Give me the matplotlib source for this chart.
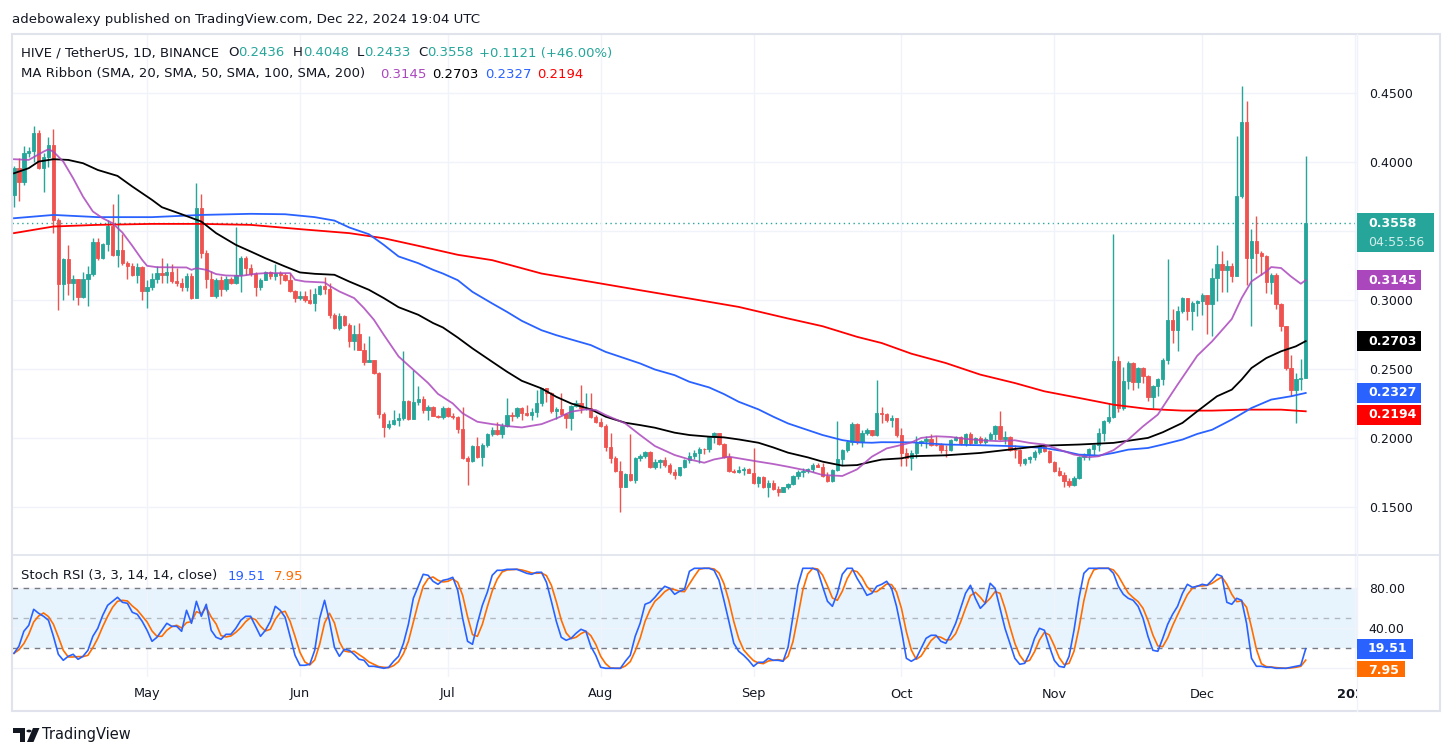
import matplotlib
matplotlib.use("Agg")
import matplotlib.pyplot as plt
import matplotlib.dates as mdates
import matplotlib.transforms as mtransforms
from matplotlib.patches import Rectangle, Polygon, Circle
from matplotlib.lines import Line2D
import numpy as np
import pandas as pd

W, H = 1453, 756

# HIVE / USDT daily candles, 2024-04-04 .. 2024-12-22 (open = previous close)
start_date = "2024-04-04"
first_open = 0.3763
closes = [
    0.3957, 0.3860, 0.4065, 0.4082, 0.4210, 0.3961, 0.4041, 0.4126, 0.3582, 0.3116,
    0.3297, 0.3128, 0.3152, 0.3022, 0.3152, 0.3191, 0.3420, 0.3309, 0.3408, 0.3541,
    0.3324, 0.3365, 0.3273, 0.3251, 0.3184, 0.3244, 0.3063, 0.3099, 0.3152, 0.3196,
    0.3186, 0.3201, 0.3140, 0.3128, 0.3099, 0.3176, 0.3015, 0.3671, 0.3341, 0.3152,
    0.3032, 0.3148, 0.3080, 0.3152, 0.3123, 0.3184, 0.3309, 0.3232, 0.3189, 0.3092,
    0.3148, 0.3201, 0.3176, 0.3196, 0.3179, 0.3148, 0.3063, 0.3015, 0.3032, 0.3003,
    0.2979, 0.3046, 0.3104, 0.3080, 0.2894, 0.2797, 0.2887, 0.2821, 0.2701, 0.2754,
    0.2636, 0.2549, 0.2563, 0.2471, 0.2174, 0.2078, 0.2102, 0.2133, 0.2145, 0.2271,
    0.2138, 0.2259, 0.2283, 0.2201, 0.2225, 0.2162, 0.2153, 0.2218, 0.2157, 0.2150,
    0.2063, 0.1853, 0.1836, 0.1942, 0.1860, 0.1949, 0.2029, 0.2058, 0.2029, 0.2087,
    0.2167, 0.2162, 0.2215, 0.2184, 0.2167, 0.2188, 0.2251, 0.2360, 0.2328, 0.2198,
    0.2213, 0.2171, 0.2142, 0.2232, 0.2256, 0.2215, 0.2220, 0.2150, 0.2118, 0.2089,
    0.1937, 0.1857, 0.1761, 0.1647, 0.1739, 0.1696, 0.1853, 0.1872, 0.1901, 0.1787,
    0.1828, 0.1841, 0.1804, 0.1751, 0.1732, 0.1787, 0.1841, 0.1872, 0.1889, 0.1920,
    0.1918, 0.2010, 0.2034, 0.1956, 0.1865, 0.1763, 0.1756, 0.1768, 0.1773, 0.1749,
    0.1671, 0.1715, 0.1643, 0.1671, 0.1628, 0.1611, 0.1643, 0.1664, 0.1727, 0.1756,
    0.1761, 0.1775, 0.1804, 0.1792, 0.1725, 0.1688, 0.1768, 0.1848, 0.1913, 0.1973,
    0.2101, 0.1973, 0.2039, 0.2058, 0.2022, 0.2179, 0.2174, 0.2130, 0.2142, 0.2022,
    0.1892, 0.1856, 0.1892, 0.1965, 0.1977, 0.1996, 0.1953, 0.1950, 0.1916, 0.1912,
    0.1989, 0.2006, 0.1965, 0.2030, 0.1965, 0.2001, 0.1969, 0.1996, 0.2030, 0.2090,
    0.1994, 0.2008, 0.1916, 0.1911, 0.1820, 0.1849, 0.1861, 0.1897, 0.1945, 0.1904,
    0.1825, 0.1759, 0.1735, 0.1687, 0.1663, 0.1711, 0.1863, 0.1880, 0.1921, 0.1948,
    0.2037, 0.2122, 0.2151, 0.2556, 0.2218, 0.2411, 0.2544, 0.2404, 0.2508, 0.2452,
    0.2298, 0.2380, 0.2431, 0.2568, 0.2853, 0.2781, 0.2923, 0.3015, 0.2919, 0.2979,
    0.2991, 0.3039, 0.2974, 0.3160, 0.3264, 0.3220, 0.3249, 0.3172, 0.3756, 0.4290,
    0.3309, 0.3430, 0.3341, 0.3317, 0.3129, 0.3184, 0.2971, 0.2810, 0.2508, 0.2346,
    0.2431, 0.2436, 0.3558,
]
highs = [
    0.3973, 0.4029, 0.4118, 0.4113, 0.4263, 0.4234, 0.4065, 0.4186, 0.4241, 0.3599,
    0.3304, 0.3401, 0.3184, 0.3155, 0.3203, 0.3249, 0.3449, 0.3449, 0.3413, 0.3582,
    0.3696, 0.3768, 0.3478, 0.3285, 0.3268, 0.3268, 0.3249, 0.3148, 0.3196, 0.3251,
    0.3309, 0.3268, 0.3261, 0.3232, 0.3160, 0.3196, 0.3196, 0.3853, 0.3768, 0.3365,
    0.3208, 0.3160, 0.3172, 0.3172, 0.3167, 0.3534, 0.3317, 0.3317, 0.3261, 0.3201,
    0.3160, 0.3208, 0.3208, 0.3263, 0.3208, 0.3196, 0.3196, 0.3075, 0.3063, 0.3063,
    0.3080, 0.3087, 0.3111, 0.3167, 0.3128, 0.2906, 0.2906, 0.2894, 0.2834, 0.2821,
    0.2834, 0.2689, 0.2737, 0.2568, 0.2481, 0.2186, 0.2133, 0.2201, 0.2181, 0.2628,
    0.2278, 0.2495, 0.2375, 0.2307, 0.2242, 0.2235, 0.2169, 0.2230, 0.2223, 0.2179,
    0.2159, 0.2227, 0.1870, 0.1949, 0.2010, 0.1966, 0.2039, 0.2082, 0.2118, 0.2111,
    0.2287, 0.2191, 0.2227, 0.2227, 0.2239, 0.2215, 0.2348, 0.2365, 0.2365, 0.2336,
    0.2227, 0.2328, 0.2183, 0.2239, 0.2275, 0.2384, 0.2328, 0.2328, 0.2167, 0.2142,
    0.2101, 0.2034, 0.1870, 0.1836, 0.1749, 0.2027, 0.1865, 0.1884, 0.1908, 0.1906,
    0.1845, 0.1845, 0.1865, 0.1816, 0.1773, 0.1792, 0.1845, 0.1901, 0.1913, 0.1932,
    0.1930, 0.2014, 0.2046, 0.2039, 0.1966, 0.1894, 0.1773, 0.1797, 0.1792, 0.1785,
    0.1925, 0.1725, 0.1725, 0.1696, 0.1696, 0.1652, 0.1647, 0.1676, 0.1732, 0.1768,
    0.1780, 0.1780, 0.1816, 0.1816, 0.1816, 0.1756, 0.1773, 0.2123, 0.1918, 0.1985,
    0.2113, 0.2106, 0.2058, 0.2070, 0.2058, 0.2420, 0.2227, 0.2179, 0.2167, 0.2142,
    0.2073, 0.1928, 0.1916, 0.2013, 0.1989, 0.2013, 0.2030, 0.2013, 0.1965, 0.1953,
    0.1994, 0.2013, 0.2013, 0.2037, 0.2042, 0.2006, 0.2013, 0.2006, 0.2042, 0.2097,
    0.2199, 0.2054, 0.2013, 0.1953, 0.1921, 0.1856, 0.1868, 0.1916, 0.1953, 0.1945,
    0.1916, 0.1832, 0.1791, 0.1752, 0.1711, 0.1723, 0.1868, 0.1892, 0.1928, 0.1957,
    0.2073, 0.2134, 0.2254, 0.3481, 0.2597, 0.2515, 0.2556, 0.2549, 0.2515, 0.2515,
    0.2460, 0.2387, 0.2436, 0.2580, 0.3300, 0.2936, 0.2955, 0.3022, 0.3015, 0.2991,
    0.2998, 0.3051, 0.3039, 0.3232, 0.3401, 0.3353, 0.3292, 0.3268, 0.4191, 0.4553,
    0.4444, 0.3514, 0.3611, 0.3353, 0.3329, 0.3196, 0.3196, 0.2979, 0.2814, 0.2604,
    0.2472, 0.2573, 0.4048,
]
lows = [
    0.3674, 0.3722, 0.3836, 0.4041, 0.4005, 0.3949, 0.3787, 0.3969, 0.3486, 0.2930,
    0.3003, 0.3039, 0.2998, 0.2966, 0.3015, 0.2959, 0.3176, 0.3292, 0.3297, 0.3353,
    0.3317, 0.3237, 0.3256, 0.3157, 0.3172, 0.3128, 0.3003, 0.2940, 0.3075, 0.3123,
    0.3128, 0.3128, 0.3123, 0.3104, 0.3070, 0.3063, 0.3010, 0.3015, 0.3304, 0.3087,
    0.3027, 0.3015, 0.3027, 0.3070, 0.3116, 0.3118, 0.3056, 0.3184, 0.3176, 0.3027,
    0.3075, 0.3143, 0.3152, 0.3143, 0.3116, 0.3140, 0.3056, 0.2990, 0.3003, 0.2990,
    0.2974, 0.2918, 0.3039, 0.3046, 0.2870, 0.2790, 0.2785, 0.2814, 0.2657, 0.2640,
    0.2636, 0.2532, 0.2556, 0.2466, 0.2145, 0.2005, 0.2066, 0.2097, 0.2090, 0.2133,
    0.2133, 0.2138, 0.2242, 0.2181, 0.2133, 0.2157, 0.2145, 0.2138, 0.2153, 0.2135,
    0.2034, 0.1845, 0.1659, 0.1829, 0.1853, 0.1797, 0.1937, 0.2014, 0.2022, 0.1998,
    0.2082, 0.2125, 0.2142, 0.2130, 0.2159, 0.2130, 0.2155, 0.2234, 0.2263, 0.2184,
    0.2135, 0.2167, 0.2070, 0.2058, 0.2227, 0.2179, 0.2203, 0.2142, 0.2106, 0.2082,
    0.1906, 0.1816, 0.1756, 0.1466, 0.1643, 0.1691, 0.1672, 0.1836, 0.1853, 0.1780,
    0.1773, 0.1780, 0.1792, 0.1739, 0.1701, 0.1725, 0.1780, 0.1816, 0.1845, 0.1821,
    0.1884, 0.1901, 0.1961, 0.1949, 0.1853, 0.1756, 0.1744, 0.1749, 0.1732, 0.1744,
    0.1664, 0.1643, 0.1635, 0.1570, 0.1623, 0.1582, 0.1606, 0.1628, 0.1659, 0.1701,
    0.1720, 0.1744, 0.1756, 0.1787, 0.1720, 0.1684, 0.1684, 0.1761, 0.1804, 0.1901,
    0.1949, 0.1956, 0.1932, 0.2022, 0.2014, 0.2014, 0.2111, 0.2118, 0.2082, 0.2010,
    0.1796, 0.1796, 0.1771, 0.1856, 0.1941, 0.1928, 0.1941, 0.1941, 0.1892, 0.1861,
    0.1904, 0.1977, 0.1953, 0.1945, 0.1953, 0.1965, 0.1957, 0.1960, 0.1984, 0.1989,
    0.1984, 0.1957, 0.1904, 0.1856, 0.1796, 0.1808, 0.1820, 0.1844, 0.1887, 0.1897,
    0.1820, 0.1752, 0.1728, 0.1646, 0.1646, 0.1655, 0.1706, 0.1839, 0.1844, 0.1868,
    0.1904, 0.1977, 0.2110, 0.2146, 0.2187, 0.2206, 0.2356, 0.2351, 0.2363, 0.2399,
    0.2266, 0.2218, 0.2303, 0.2387, 0.2539, 0.2689, 0.2629, 0.2907, 0.2853, 0.2781,
    0.2882, 0.2894, 0.2757, 0.2737, 0.2991, 0.3056, 0.3056, 0.3135, 0.3172, 0.3739,
    0.3111, 0.2814, 0.3196, 0.3184, 0.3051, 0.3044, 0.2935, 0.2773, 0.2496, 0.2302,
    0.2109, 0.2346, 0.2433,
]

ma20_idx = [0, 3, 6, 7, 8, 10, 12, 14, 16, 18, 20, 22, 24, 26, 27, 29, 35, 36, 37, 39,
            41, 43, 46, 49, 51, 56, 57, 59, 63, 64, 66, 69, 71, 73, 75, 78, 81, 84, 86, 89,
            91, 94, 97, 100, 103, 107, 110, 113, 116, 118, 120, 124, 127, 130, 134, 137, 140, 142, 145, 147,
            151, 154, 157, 161, 164, 168, 171, 174, 177, 180, 182, 184, 187, 190, 193, 197, 200, 203, 206, 209,
            212, 215, 218, 220, 223, 226, 229, 232, 234, 236, 240, 243, 247, 249, 251, 254, 255, 257, 259, 261, 262]
ma20_val = [0.4022, 0.4017, 0.4077, 0.4094, 0.4077, 0.4005, 0.3884, 0.3751, 0.3643, 0.3594,
            0.3558, 0.3490, 0.3394, 0.3292, 0.3249, 0.3239, 0.3237, 0.3220, 0.3232, 0.3220,
            0.3189, 0.3179, 0.3176, 0.3191, 0.3196, 0.3196, 0.3148, 0.3135, 0.3128, 0.3104,
            0.3063, 0.3015, 0.2942, 0.2858, 0.2749, 0.2592, 0.2495, 0.2399, 0.2320, 0.2251,
            0.2179, 0.2118, 0.2101, 0.2087, 0.2077, 0.2101, 0.2142, 0.2191, 0.2208, 0.2203,
            0.2167, 0.2106, 0.2022, 0.1942, 0.1877, 0.1845, 0.1821, 0.1845, 0.1865, 0.1853,
            0.1829, 0.1812, 0.1792, 0.1763, 0.1732, 0.1725, 0.1773, 0.1865, 0.1925, 0.1950,
            0.1968, 0.2001, 0.2013, 0.2008, 0.1994, 0.1982, 0.1977, 0.1984, 0.1965, 0.1953,
            0.1916, 0.1880, 0.1861, 0.1868, 0.1912, 0.1989, 0.2085, 0.2170, 0.2279, 0.2387,
            0.2597, 0.2701, 0.2863, 0.3015, 0.3136, 0.3208, 0.3240, 0.3233, 0.3172, 0.3119, 0.3145]

ma50_idx = [0, 3, 5, 8, 11, 14, 17, 21, 24, 28, 30, 34, 38, 41, 45, 48, 51, 55, 58, 61,
            65, 68, 72, 75, 78, 82, 85, 87, 90, 93, 97, 100, 103, 107, 110, 113, 117, 120, 124, 127,
            130, 134, 137, 141, 144, 147, 151, 154, 157, 161, 164, 168, 171, 174, 176, 180, 182, 189, 196, 203,
            209, 216, 223, 230, 233, 237, 240, 244, 247, 249, 251, 254, 257, 260, 262]
ma50_val = [0.3920, 0.3957, 0.4005, 0.4022, 0.4017, 0.3993, 0.3944, 0.3901, 0.3824, 0.3727,
            0.3674, 0.3623, 0.3570, 0.3486, 0.3401, 0.3353, 0.3304, 0.3244, 0.3201, 0.3191,
            0.3184, 0.3135, 0.3075, 0.3015, 0.2949, 0.2894, 0.2834, 0.2802, 0.2729, 0.2650,
            0.2553, 0.2481, 0.2415, 0.2360, 0.2299, 0.2251, 0.2208, 0.2155, 0.2111, 0.2094,
            0.2075, 0.2039, 0.2022, 0.2010, 0.2005, 0.1990, 0.1966, 0.1932, 0.1894, 0.1860,
            0.1829, 0.1800, 0.1804, 0.1829, 0.1844, 0.1853, 0.1868, 0.1875, 0.1892, 0.1921,
            0.1945, 0.1953, 0.1965, 0.2001, 0.2042, 0.2110, 0.2194, 0.2303, 0.2351, 0.2424,
            0.2508, 0.2580, 0.2629, 0.2665, 0.2703]

ma100_idx = [0, 8, 17, 28, 38, 48, 55, 61, 65, 68, 72, 75, 78, 82, 85, 87, 90, 93, 97, 100,
             103, 107, 110, 113, 117, 120, 124, 127, 130, 134, 137, 141, 144, 147, 151, 154, 157, 161, 164, 168,
             171, 174, 176, 182, 189, 196, 203, 209, 213, 216, 220, 223, 226, 230, 233, 237, 240, 243, 247, 251,
             255, 259, 262]
ma100_val = [0.3594, 0.3618, 0.3602, 0.3602, 0.3618, 0.3626, 0.3623, 0.3602, 0.3577, 0.3527,
             0.3478, 0.3401, 0.3317, 0.3268, 0.3220, 0.3193, 0.3145, 0.3060, 0.2976, 0.2915,
             0.2850, 0.2782, 0.2746, 0.2715, 0.2674, 0.2625, 0.2577, 0.2541, 0.2497, 0.2456,
             0.2408, 0.2367, 0.2319, 0.2263, 0.2208, 0.2155, 0.2106, 0.2058, 0.2022, 0.1985,
             0.1969, 0.1966, 0.1970, 0.1969, 0.1953, 0.1948, 0.1941, 0.1928, 0.1904, 0.1880,
             0.1873, 0.1892, 0.1916, 0.1928, 0.1953, 0.1989, 0.2030, 0.2060, 0.2134, 0.2218,
             0.2279, 0.2303, 0.2327]

ma200_idx = [0, 8, 17, 28, 38, 48, 58, 68, 75, 82, 90, 97, 107, 117, 127, 137, 147, 157, 164, 171,
             176, 182, 189, 196, 203, 209, 216, 223, 230, 237, 243, 250, 257, 262]
ma200_val = [0.3486, 0.3534, 0.3546, 0.3553, 0.3553, 0.3546, 0.3515, 0.3486, 0.3449, 0.3394,
             0.3329, 0.3290, 0.3193, 0.3133, 0.3072, 0.3012, 0.2951, 0.2867, 0.2811, 0.2734,
             0.2689, 0.2612, 0.2544, 0.2460, 0.2399, 0.2339, 0.2291, 0.2242, 0.2211, 0.2199,
             0.2199, 0.2206, 0.2206, 0.2194]

# Stoch RSI %K (3, 3, 14, 14), one value per candle
stoch_k = [
    15, 22, 37, 43, 59, 55, 52, 48, 32, 14,
    8, 12, 14, 9, 12, 18, 32, 40, 53, 63,
    67, 71, 66, 65, 56, 54, 47, 38, 27, 31,
    38, 45, 42, 42, 37, 58, 45, 67, 52, 64,
    38, 31, 29, 34, 34, 40, 48, 52, 52, 42,
    32, 38, 47, 62, 58, 51, 32, 13, 3, 3,
    4, 18, 50, 68, 47, 21, 12, 19, 18, 14,
    9, 8, 2, 2, 1, 0, 1, 7, 12, 25,
    44, 70, 82, 94, 93, 87, 84, 88, 89, 91,
    78, 50, 27, 24, 45, 63, 76, 93, 98, 98,
    99, 99, 99, 97, 95, 94, 96, 96, 86, 67,
    47, 31, 28, 30, 35, 39, 37, 22, 13, 1,
    0, 0, 0, 0, 7, 13, 32, 45, 64, 66,
    71, 77, 82, 80, 74, 77, 79, 97, 100, 100,
    100, 100, 98, 88, 68, 47, 25, 17, 13, 8,
    2, 6, 6, 10, 8, 8, 7, 21, 52, 83,
    100, 100, 100, 98, 82, 67, 62, 75, 94, 100,
    100, 90, 82, 73, 75, 82, 84, 87, 80, 62,
    38, 10, 7, 10, 20, 30, 33, 33, 27, 25,
    34, 45, 60, 75, 83, 70, 60, 65, 85, 80,
    60, 40, 25, 10, 4, 5, 15, 30, 40, 38,
    22, 8, 2, 1, 12, 38, 70, 95, 100, 100,
    100, 100, 100, 95, 82, 74, 70, 68, 62, 50,
    32, 18, 17, 30, 44, 54, 62, 75, 84, 81,
    82, 84, 83, 88, 94, 92, 66, 64, 70, 68,
    45, 10, 2, 2, 1, 1, 0, 0, 0, 1,
    2, 3, 19.51,
]

UP = "#26a69a"
DOWN = "#ef5350"
TXT = "#131722"
GRID = "#f0f3fa"
BORDER = "#e0e3eb"
C20, C50, C100, C200 = "#ab47bc", "#000000", "#2962ff", "#ff0000"
KCOL, DCOL = "#2962ff", "#ff6d00"

dates = pd.date_range(start_date, periods=len(closes), freq="D")
x = mdates.date2num(dates)
opens = [first_open] + closes[:-1]
stoch_d = pd.Series(stoch_k).rolling(3, min_periods=1).mean()

fig = plt.figure(figsize=(W / 100, H / 100), dpi=100)
fig.patch.set_facecolor("white")


def box(l, t, r, b):
    return [l / W, 1 - b / H, (r - l) / W, (b - t) / H]


ax = fig.add_axes(box(12, 34, 1357, 555))
ax2 = fig.add_axes(box(12, 555, 1357, 677), sharex=ax)
axt = fig.add_axes(box(12, 677, 1357, 711), sharex=ax)

# candles
o = np.array(opens)
c = np.array(closes)
cols = np.where(c >= o, UP, DOWN)
ax.vlines(x, lows, highs, colors=cols, lw=1, zorder=2)
ax.bar(x, c - o, bottom=o, width=0.68, color=cols, edgecolor=cols, linewidth=0.6, zorder=3)

# moving averages
ax.plot(x[ma200_idx], ma200_val, color=C200, lw=1.3, zorder=4)
ax.plot(x[ma100_idx], ma100_val, color=C100, lw=1.3, zorder=4)
ax.plot(x[ma50_idx], ma50_val, color=C50, lw=1.3, zorder=4)
ax.plot(x[ma20_idx], ma20_val, color=C20, lw=1.3, alpha=0.85, zorder=4)
ax.axhline(closes[-1], color=UP, lw=1, ls=(0, (1, 2.5)), zorder=1)

months = pd.date_range("2024-05-01", "2025-01-01", freq="MS")
mx = mdates.date2num(months)

# price levels that sit under a price tag are not labelled on the scale
hidden_main = [0.35]
hidden_stoch = [0]

ax.set_xlim(x[0] - 0.4, x[0] + 272.4)
ax.set_ylim(0.1152, 0.4930)
ax.set_xticks(mx)
ax.set_yticks(np.arange(0.15, 0.4501, 0.05))
ax.yaxis.tick_right()
ax.yaxis.set_major_formatter(matplotlib.ticker.FuncFormatter(
    lambda v, p: "" if any(abs(v - h) < 1e-6 for h in hidden_main) else f"{v:.4f}"))
ax.tick_params(axis="x", length=0, labelbottom=False)
ax.tick_params(axis="y", length=0, pad=8.5, labelsize=9, labelcolor=TXT)
ax.grid(True, color=GRID, lw=1, zorder=0)

# stoch rsi pane
ax2.axhspan(20, 80, color="#2196f3", alpha=0.1, lw=0)
ax2.axhline(80, color="#787b86", lw=1, ls=(0, (4, 4)))
ax2.axhline(50, color="#787b86", lw=1, ls=(0, (4, 4)), alpha=0.5)
ax2.axhline(20, color="#787b86", lw=1, ls=(0, (4, 4)))
ax2.plot(x, stoch_k, color=KCOL, lw=1.2, zorder=4)
ax2.plot(x, stoch_d, color=DCOL, lw=1.2, zorder=3)
ax2.set_ylim(-8.7, 113.3)
ax2.set_yticks([0, 40, 80])
ax2.yaxis.tick_right()
ax2.yaxis.set_major_formatter(matplotlib.ticker.FuncFormatter(
    lambda v, p: "" if any(abs(v - h) < 1e-6 for h in hidden_stoch) else f"{v:.2f}"))
ax2.tick_params(axis="x", length=0, labelbottom=False)
ax2.tick_params(axis="y", length=0, pad=8.5, labelsize=9, labelcolor=TXT)
ax2.grid(True, color=GRID, lw=1, zorder=0)

for a in (ax, ax2, axt):
    for s in a.spines.values():
        s.set_visible(False)
axt.axis("off")

# time axis labels, clipped at the price scale like the original
tt = mtransforms.blended_transform_factory(axt.transData, axt.transAxes)
for d, xm in zip(months, mx):
    bold = d.month == 1
    lab = str(d.year) if bold else d.strftime("%b")
    axt.text(xm, 0.5, lab, transform=tt, ha="center", va="center", fontsize=9.3,
             color=TXT, fontweight="bold" if bold else "normal", clip_on=True)

# frame and separators
fig.add_artist(Rectangle((12 / W, 1 - 711 / H), (1440 - 12) / W, (711 - 34) / H,
                         transform=fig.transFigure, fill=False, ec=BORDER, lw=1.5))
fig.add_artist(Line2D([12 / W, 1440 / W], [1 - 555 / H] * 2, color=BORDER, lw=1.2))
fig.add_artist(Line2D([1357 / W] * 2, [1 - 711 / H, 1 - 34 / H], color=GRID, lw=1))

renderer = fig.canvas.get_renderer()


def chain(px, py, parts, size=9.5):
    xx = px
    for s, col, gap in parts:
        t = fig.text(xx / W, 1 - py / H, s, color=col, fontsize=size, ha="left", va="center")
        xx = t.get_window_extent(renderer).x1 + gap


fig.text(12 / W, 1 - 19 / H, "adebowalexy published on TradingView.com, Dec 22, 2024 19:04 UTC",
         fontsize=9.6, color=TXT, ha="left", va="center")
chain(21, 53, [("HIVE / TetherUS, 1D, BINANCE", TXT, 9), ("O", TXT, 0), ("0.2436", UP, 8),
               ("H", TXT, 0), ("0.4048", UP, 8), ("L", TXT, 0), ("0.2433", UP, 8),
               ("C", TXT, 0), ("0.3558", UP, 5), ("+0.1121 (+46.00%)", UP, 0)])
chain(21, 74, [("MA Ribbon (SMA, 20, SMA, 50, SMA, 100, SMA, 200)", TXT, 15),
               ("0.3145", C20, 6), ("0.2703", C50, 6), ("0.2327", C100, 6), ("0.2194", C200, 0)])
chain(21, 576, [("Stoch RSI (3, 3, 14, 14, close)", TXT, 10), ("19.51", KCOL, 9), ("7.95", DCOL, 0)])


def tag(axis, value, label, color, w, h=20, top_min=0, pane_bottom=None, sub=None):
    yc = H - axis.transData.transform((0, value))[1]
    top = max(yc - 10, top_min)
    hh = h if pane_bottom is None else min(h, pane_bottom - top)
    fig.add_artist(Rectangle((1357 / W, 1 - (top + hh) / H), w / W, hh / H,
                             transform=fig.transFigure, fc=color, ec="none", zorder=5))
    fig.text(1368 / W, 1 - (top + 10) / H, label, color="white", fontsize=9,
             fontweight="bold", ha="left", va="center", zorder=6)
    if sub:
        fig.text(1368 / W, 1 - (top + 29) / H, sub, color="white", alpha=0.8, fontsize=9,
                 ha="left", va="center", zorder=6)
    return top + hh + 2


tag(ax, closes[-1], "0.3558", UP, 77, h=39, sub="04:55:56")
tag(ax, ma20_val[-1], "0.3145", C20, 64)
tag(ax, ma50_val[-1], "0.2703", "#000000", 64)
nxt = tag(ax, ma100_val[-1], "0.2327", C100, 64)
tag(ax, ma200_val[-1], "0.2194", C200, 64, top_min=nxt)
nxt = tag(ax2, stoch_k[-1], "19.51", KCOL, 56)
tag(ax2, stoch_d.iloc[-1], "7.95", DCOL, 48, top_min=nxt, pane_bottom=677)

# TradingView footer logo
lc = "#131722"
fig.add_artist(Polygon([[13 / W, 1 - 728 / H], [25 / W, 1 - 728 / H], [25 / W, 1 - 742 / H],
                        [19.5 / W, 1 - 742 / H], [19.5 / W, 1 - 733 / H], [13 / W, 1 - 733 / H]],
                       closed=True, transform=fig.transFigure, fc=lc, ec="none"))
fig.add_artist(Circle((29 / W, 1 - 731 / H), 2.6 / W, transform=fig.transFigure, fc=lc, ec="none"))
fig.add_artist(Polygon([[33 / W, 1 - 728 / H], [39.5 / W, 1 - 728 / H], [33.5 / W, 1 - 742 / H],
                        [27 / W, 1 - 742 / H]], closed=True, transform=fig.transFigure, fc=lc, ec="none"))
fig.text(42 / W, 1 - 735 / H, "TradingView", fontsize=10.5, color=lc, ha="left", va="center")

fig.savefig("out.png", dpi=100, facecolor="white")
